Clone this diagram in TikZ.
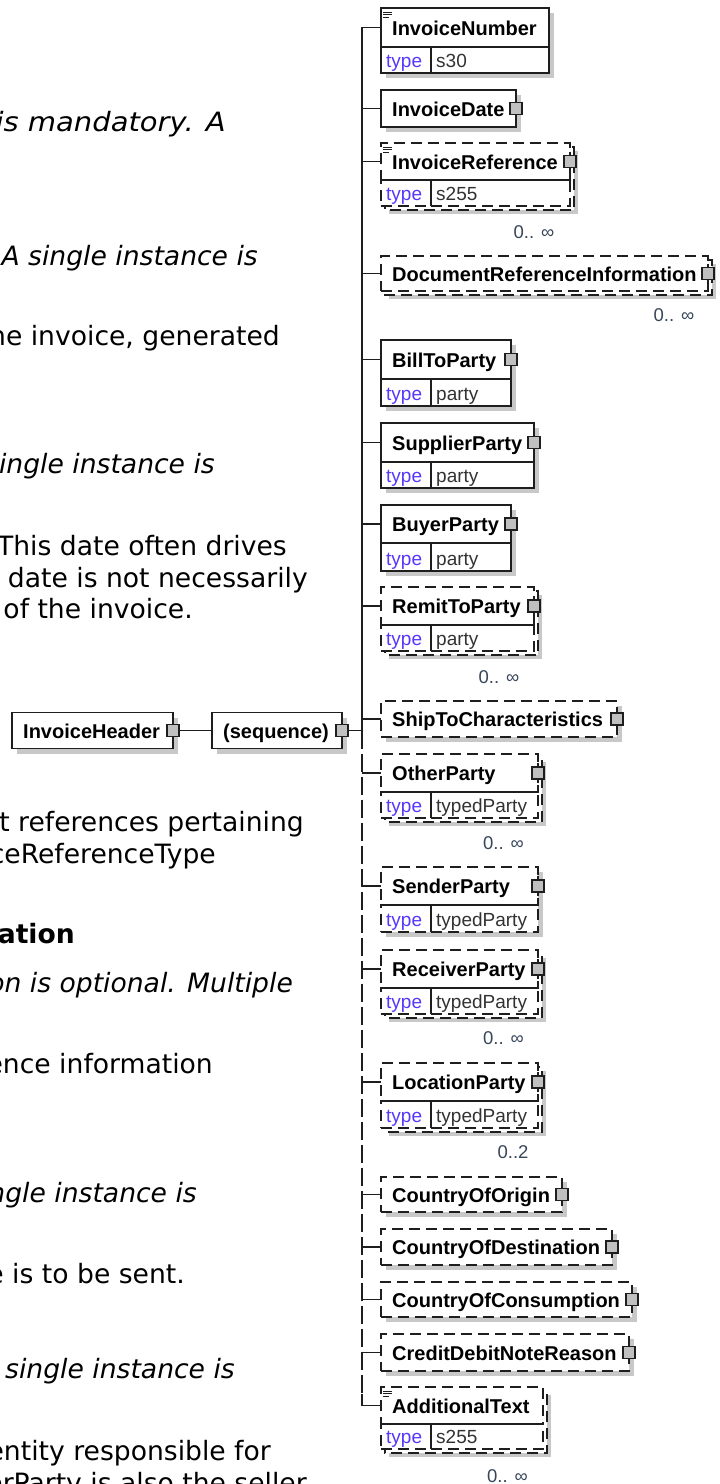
\documentclass[tikz,border=0pt]{standalone}
\usepackage{fontspec}
\setmainfont{DejaVu Sans}
\newfontfamily\diag{Liberation Sans}
\usetikzlibrary{calc}
\definecolor{shadowc}{RGB}{200,200,200}
\definecolor{framec}{RGB}{30,30,30}
\definecolor{sqfill}{RGB}{192,192,192}
\definecolor{typec}{RGB}{85,55,255}
\definecolor{valc}{RGB}{50,50,50}
\definecolor{cardc}{RGB}{55,70,90}
\tikzset{
 lnframe/.style={draw=framec, line width=1.3pt},
 odash/.style={dash pattern=on 11pt off 6pt},
 sbox/.style={lnframe, fill=white, inner sep=0pt, outer sep=0pt, anchor=north west},
 obox/.style={sbox, odash},
 sq/.style={draw=framec, line width=1.1pt, fill=sqfill, minimum size=12pt, inner sep=0pt, outer sep=0pt},
 ttl/.style={font=\diag\fontsize{20}{24}\selectfont\bfseries, inner sep=0pt, anchor=base west},
 tkey/.style={font=\diag\fontsize{19}{23}\selectfont, text=typec, inner sep=0pt, anchor=base west},
 tval/.style={font=\diag\fontsize{19}{23}\selectfont, text=valc, inner sep=0pt, anchor=base west},
 card/.style={font=\diag\fontsize{18.5}{22}\selectfont, text=cardc, inner sep=0pt},
 body/.style={font=\fontsize{26.6}{32}\selectfont, inner sep=0pt, anchor=base east},
 bodyi/.style={body, font=\fontsize{26.6}{32}\selectfont\itshape},
 bodyb/.style={body, font=\fontsize{26.6}{32}\selectfont\bfseries},
 conn/.style={draw=framec, line width=1.3pt},
 busdash/.style={dash pattern=on 18pt off 5pt},
}
\newcommand\shd[4]{\fill[shadowc] (#1+5,#2+5) rectangle (#3+5,#4+5);}
\newcommand\mbk[4]{\fill[shadowc] (#1+8,#2+8) rectangle (#3+8,#4+8);
  \draw[lnframe, fill=white, odash] (#1+4,#2+4) rectangle (#3+4,#4+4);}
\newcommand\xicon[2]{\draw[framec, line width=0.8pt] (#1+2,#2+4) -- (#1+11,#2+4) (#1+2,#2+6.5) -- (#1+11,#2+6.5) (#1+2,#2+9) -- (#1+8,#2+9);}
\newcommand\tworow[8]{%
 \node[#6, minimum width=#3pt, minimum height=#4pt] (#1) at (381,#2) {};
 \node[#6, minimum width=50pt, minimum height=#5pt] (#1Kc) at (#1.south west) {};
 \node[#6, minimum width=#3pt-50pt, minimum height=#5pt] (#1Vc) at (#1Kc.north east) {};
 \draw[lnframe] (#1.south west) -- (#1.south east);
 \draw[lnframe] (#1Kc.north east) -- (#1Kc.south east);
 \node[ttl] (#1L) at (392,#2+#4/2+7.5) {#7};
 \node[tkey] (#1k) at (386,#2+#4+#5-6) {type};
 \node[tval] (#1v) at (436,#2+#4+#5-6) {#8};
}
\newcommand\onerow[6]{%
 \node[#5, minimum width=#3pt, minimum height=#4pt] (#1) at (381,#2) {};
 \node[ttl] (#1L) at (392,#2+#4/2+7.5) {#6};
}
\newcommand\osq[1]{\draw[lnframe] ([yshift=10pt]#1.east) -- ([yshift=-10pt]#1.east);
 \node[sq] (#1S) at (#1.east) {};}
\newcommand\ssq[1]{\node[sq] (#1S) at (#1.east) {};}
\begin{document}
\begin{tikzpicture}[x=1pt,y=-1pt]
\useasboundingbox (0,0) rectangle (720,1484);
\clip (0,0) rectangle (720,1484);
\fill[white] (0,0) rectangle (720,1484);
\coordinate (bx) at (362,0);
% body text fragments
\node[bodyi] (t1) at (226,131) {\scalebox{1.09}[1]{is mandatory. A}};
\node[bodyi] (t2) at (258,265) {A single instance is};
\node[body] (t3) at (280,345) {the invoice, generated};
\node[bodyi] (t4) at (215,473) {single instance is};
\node[body] (t5) at (287,555) {This date often drives};
\node[body] (t6) at (308,587) {date is not necessarily};
\node[body] (t7) at (193,618) {of the invoice.};
\node[body] (t8) at (304,831) {nt references pertaining};
\node[body] (t9) at (216,863) {iceReferenceType};
\node[bodyb] (t10) at (75,943) {mation};
\node[bodyi] (t11) at (293,992) {ion is optional. Multiple};
\node[body] (t12) at (213,1073) {rence information};
\node[bodyi] (t13) at (197,1202) {single instance is};
\node[body] (t14) at (185,1283) {ce is to be sent.};
\node[bodyi] (t15) at (235,1378) {A single instance is};
\node[body] (t16) at (271,1460) {entity responsible for};
\node[body] (t17) at (307,1492) {erParty is also the seller};
% left boxes
\shd{12}{712.5}{173}{748.5}
\node[sbox, minimum width=161pt, minimum height=36pt] (ih) at (12,712.5) {};
\node[ttl] (ihL) at (23,738) {InvoiceHeader};
\node[sq] (ihS) at (ih.east) {};
\shd{212}{712.5}{342}{748.5}
\node[sbox, minimum width=130pt, minimum height=36pt] (seq) at (212,712.5) {};
\node[ttl] (seqL) at (223,738) {(sequence)};
\node[sq] (seqS) at (seq.east) {};
\draw[conn] (ihS.east) -- (seq.west);
% children
\shd{381}{8}{549}{73}
\tworow{inum}{8}{168}{39}{26}{sbox}{InvoiceNumber}{s30}
\xicon{381}{8}
\shd{381}{90}{516}{127}
\onerow{idt}{90}{135}{37}{sbox}{InvoiceDate}
\ssq{idt}
\mbk{381}{143}{570}{206}
\tworow{irf}{143}{189}{37}{26}{obox}{InvoiceReference}{s255}
\xicon{381}{143}
\osq{irf}
\node[card] (irfC) at (534,232) {0.. ∞};
\mbk{381}{256}{708}{291}
\onerow{dri}{256}{327}{35}{obox}{DocumentReferenceInformation}
\osq{dri}
\node[card] (driC) at (674,315) {0.. ∞};
\shd{381}{340}{511}{406}
\tworow{btp}{340}{130}{39}{27}{sbox}{BillToParty}{party}
\ssq{btp}
\shd{381}{423}{534}{488}
\tworow{sup}{423}{153}{39}{26}{sbox}{SupplierParty}{party}
\ssq{sup}
\shd{381}{505}{511}{571}
\tworow{buy}{505}{130}{38}{28}{sbox}{BuyerParty}{party}
\ssq{buy}
\mbk{381}{587}{534}{651}
\tworow{rtp}{587}{153}{38}{26}{obox}{RemitToParty}{party}
\osq{rtp}
\node[card] (rtpC) at (499,677) {0.. ∞};
\shd{381}{701}{617}{737}
\onerow{stc}{701}{236}{36}{obox}{ShipToCharacteristics}
\osq{stc}
\mbk{381}{754}{538}{818}
\tworow{oth}{754}{157}{38}{26}{obox}{OtherParty}{typedParty}
\osq{oth}
\node[card] (othC) at (503.5,843) {0.. ∞};
\shd{381}{867}{538}{932}
\tworow{snd}{867}{157}{38}{27}{obox}{SenderParty}{typedParty}
\osq{snd}
\mbk{381}{950}{538}{1014}
\tworow{rcv}{950}{157}{38}{26}{obox}{ReceiverParty}{typedParty}
\osq{rcv}
\node[card] (rcvC) at (503.5,1038) {0.. ∞};
\mbk{381}{1063}{538}{1128}
\tworow{loc}{1063}{157}{38}{27}{obox}{LocationParty}{typedParty}
\osq{loc}
\node[card] (locC) at (513,1152) {0..2};
\shd{381}{1177}{562}{1212}
\onerow{coo}{1177}{181}{35}{obox}{CountryOfOrigin}
\osq{coo}
\shd{381}{1229}{612}{1265}
\onerow{cod}{1229}{231}{36}{obox}{CountryOfDestination}
\osq{cod}
\shd{381}{1282}{632}{1317}
\onerow{coc}{1282}{251}{35}{obox}{CountryOfConsumption}
\osq{coc}
\shd{381}{1334}{629}{1371}
\onerow{cdn}{1334}{248}{37}{obox}{CreditDebitNoteReason}
\osq{cdn}
\mbk{381}{1387}{543}{1449}
\tworow{adt}{1387}{162}{37}{25}{obox}{AdditionalText}{s255}
\xicon{381}{1387}
\node[card] (adtC) at (507.5,1476) {0.. ∞};
% bus and connectors
\draw[conn] (seqS.east) -- (seqS.east -| bx);
\draw[conn] (inum.west) -- (inum.west -| bx) -- (seqS.east -| bx);
\draw[conn, busdash] (seqS.east -| bx) -- ($(adt.west -| bx)+(0,-12)$);
\draw[conn] ($(adt.west -| bx)+(0,-12)$) -- (adt.west -| bx) -- (adt.west);
\foreach \n in {idt,irf,dri,btp,sup,buy,rtp,stc,oth,snd,rcv,loc,coo,cod,coc,cdn}
  \draw[conn] (\n.west -| bx) -- (\n.west);
\end{tikzpicture}
\end{document}
